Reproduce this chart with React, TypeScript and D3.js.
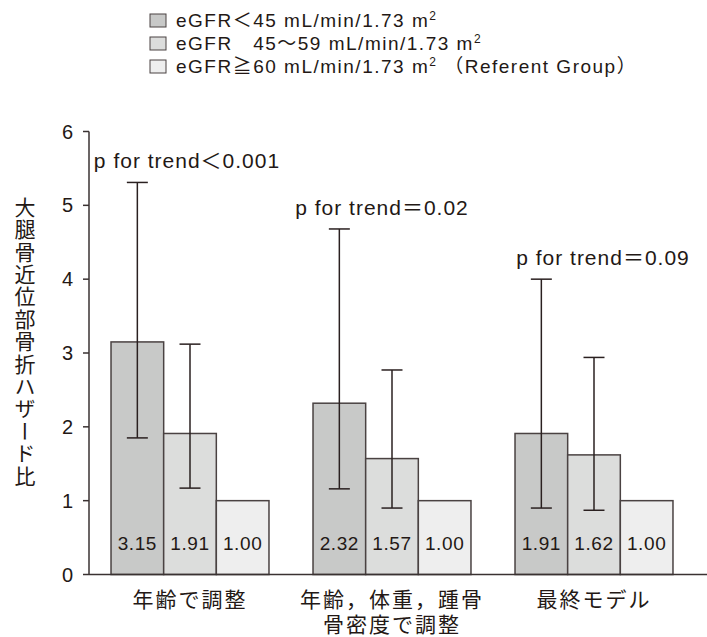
import React from "react";
import * as d3 from "d3";

// ---- data ----
const categories = ["年齢で調整", "年齢，体重，踵骨\n骨密度で調整", "最終モデル"];
const seriesKeys = ["lt45", "mid", "ref"];
const legendMain = ["eGFR＜45 mL/min/1.73 m", "eGFR　45～59 mL/min/1.73 m", "eGFR≧60 mL/min/1.73 m"];
const legendTail = ["", "", " （Referent Group）"];
const hrLt45 = [3.15, 2.32, 1.91];
const hrMid = [1.91, 1.57, 1.62];
const hrRef = [1.0, 1.0, 1.0];
const lowLt45 = [1.85, 1.16, 0.9];
const upLt45 = [5.31, 4.68, 4.0];
const lowMid = [1.17, 0.9, 0.87];
const upMid = [3.12, 2.77, 2.94];
const pTrend = ["p for trend＜0.001", "p for trend＝0.02", "p for trend＝0.09"];
const yTicks = [0, 1, 2, 3, 4, 5, 6];
const yTitle = "大腿骨近位部骨折ハザード比";

const seriesValues = [hrLt45, hrMid, hrRef];
const seriesLow: (number[] | null)[] = [lowLt45, lowMid, null];
const seriesUp: (number[] | null)[] = [upLt45, upMid, null];

// ---- style ----
const W = 707;
const H = 637;
const fills = ["#c8c9c8", "#dcdddc", "#eeeeee"];
const ink = "#231815";
const barStroke = "#4a4242";
const latin = "'Liberation Sans', Arial, 'Noto Sans CJK JP', sans-serif";
const cjk = "'Noto Sans CJK JP', 'Liberation Sans', sans-serif";

export default function App() {
  const axisX = 89;
  const x = d3.scaleBand<string>().domain(categories).range([89, 695]).paddingInner(0.218).paddingOuter(0.109);
  const xi = d3.scaleBand<string>().domain(seriesKeys).range([0, x.bandwidth()]).padding(0);
  const y = d3.scaleLinear().domain([0, 6]).range([574.5, 131.5]);
  const capW = 21;
  const pNudge = [-3, -10, 9];

  return (
    <svg width={W} height={H} style={{ position: "absolute", left: 0, top: 0, background: "#fff" }}>
      {/* legend */}
      {legendMain.map((t, i) => {
        const cy = 20.5 + i * 23;
        return (
          <g key={"lg" + i}>
            <rect x={150} y={cy - 6.5} width={16} height={13} fill={fills[i]} stroke={barStroke} strokeWidth={1} />
            <text x={176} y={cy + 6.5} fontFamily={latin} fontSize={19} fill={ink} style={{ letterSpacing: "1.5px" }}>
              {t}
              <tspan fontSize={12} dy={-7}>2</tspan>
              <tspan dy={7}>{legendTail[i]}</tspan>
            </text>
          </g>
        );
      })}

      {/* bars */}
      {categories.map((c, ci) => (
        <g key={"g" + ci} transform={`translate(${x(c)},0)`}>
          {seriesKeys.map((k, si) => {
            const v = seriesValues[si][ci];
            const bx = xi(k)!;
            return (
              <g key={k}>
                <rect x={bx} y={y(v)} width={xi.bandwidth()} height={y(0) - y(v)} fill={fills[si]} stroke={barStroke} strokeWidth={1.5} />
                <text x={bx + xi.bandwidth() / 2} y={550} textAnchor="middle" fontFamily={latin} fontSize={19} fill={ink} style={{ letterSpacing: "0.6px" }}>
                  {v.toFixed(2)}
                </text>
              </g>
            );
          })}
          {seriesKeys.map((k, si) => {
            const lo = seriesLow[si];
            const up = seriesUp[si];
            if (!lo || !up) return null;
            const cx = xi(k)! + xi.bandwidth() / 2;
            return (
              <g key={"e" + k} stroke="#2a2020" strokeWidth={1.5}>
                <line x1={cx} x2={cx} y1={y(lo[ci])} y2={y(up[ci])} />
                <line x1={cx - capW / 2} x2={cx + capW / 2} y1={y(lo[ci])} y2={y(lo[ci])} />
                <line x1={cx - capW / 2} x2={cx + capW / 2} y1={y(up[ci])} y2={y(up[ci])} />
              </g>
            );
          })}
          <text x={x.bandwidth() / 2 + pNudge[ci]} y={y(upLt45[ci]) - 14} textAnchor="middle" fontFamily={latin} fontSize={21} fill={ink} style={{ letterSpacing: "1px" }}>
            {pTrend[ci]}
          </text>
          <text x={x.bandwidth() / 2} y={607} textAnchor="middle" fontFamily={cjk} fontSize={21} fill={ink} style={{ letterSpacing: "2px" }}>
            {c.split("\n").map((line, li) => (
              <tspan key={li} x={x.bandwidth() / 2} dy={li === 0 ? 0 : 25}>
                {line}
              </tspan>
            ))}
          </text>
        </g>
      ))}

      {/* axes */}
      <line x1={axisX} x2={W} y1={y(0)} y2={y(0)} stroke="#3a3232" strokeWidth={1.5} />
      <line x1={axisX} x2={axisX} y1={y(0)} y2={y(6)} stroke="#3a3232" strokeWidth={1.5} />
      {yTicks.map((t) => (
        <g key={"t" + t}>
          <line x1={axisX - 6} x2={axisX} y1={y(t)} y2={y(t)} stroke="#3a3232" strokeWidth={1.5} />
          <text x={73} y={y(t) + 7} textAnchor="end" fontFamily={latin} fontSize={20} fill={ink}>
            {t}
          </text>
        </g>
      ))}
      <text
        x={25}
        y={342}
        textAnchor="middle"
        fontFamily={cjk}
        fontSize={21}
        fill={ink}
        style={{ writingMode: "vertical-rl", textOrientation: "upright", letterSpacing: "1.4px" } as any}
      >
        {yTitle}
      </text>
    </svg>
  );
}
